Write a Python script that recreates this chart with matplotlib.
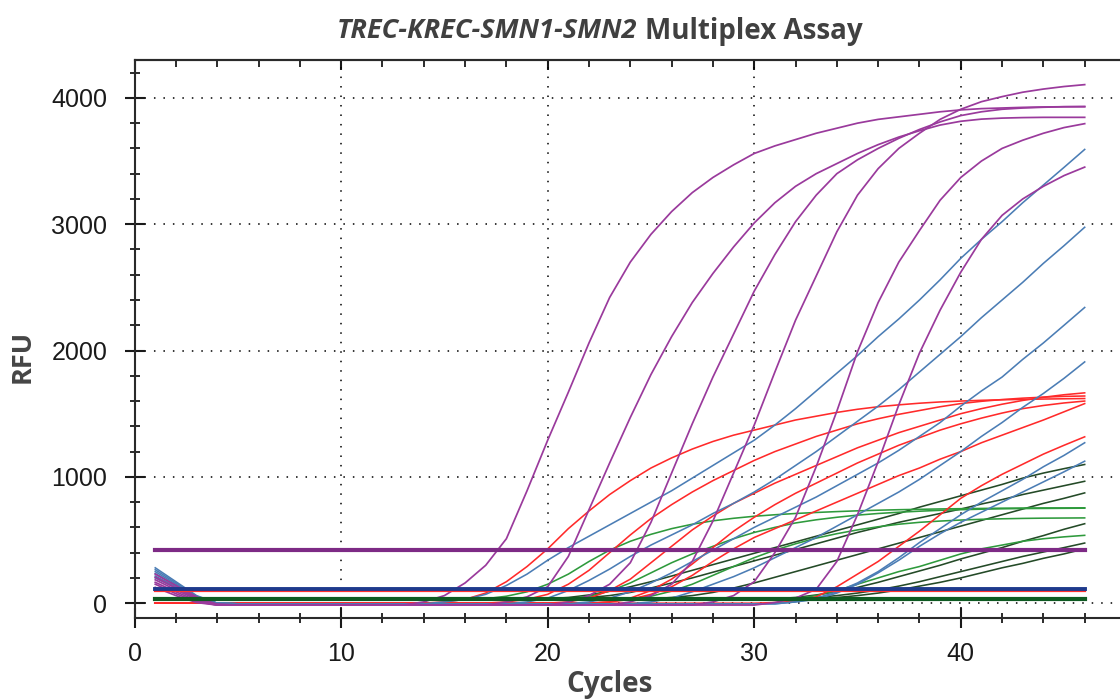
import numpy as np
import matplotlib.pyplot as plt
from matplotlib.ticker import MultipleLocator

# cycle numbers 1..46
cycles = list(range(1, 47))

# purple (SMN1) curves
purple_1 = [230, 140, 50, -10, -15, -15, -15, -15, -15, -15, -15, -15, -15,
            10, 60, 160, 300, 510, 890, 1290, 1670, 2060, 2420, 2700, 2920, 3100, 3250, 3370, 3470, 3560,
            3620, 3670, 3720, 3760, 3800, 3830, 3850, 3870, 3890, 3905, 3915, 3920, 3925, 3928, 3930, 3930]
purple_2 = [205, 120, 40, -10, -15, -15, -15, -15, -15, -15, -15, -15, -15, -15, -15, -15, -15,
            10, 50, 130, 370, 740, 1110, 1470, 1810, 2110, 2380, 2610, 2820, 3010, 3170, 3300, 3400,
            3480, 3560, 3630, 3690, 3740, 3785, 3815, 3832, 3840, 3844, 3846, 3846, 3846]
purple_3 = [185, 105, 30, -10, -15, -15, -15, -15, -15, -15, -15, -15, -15, -15, -15, -15, -15, -15, -15, -15,
            10, 60, 150, 320, 640, 1030, 1420, 1790, 2130, 2470, 2760, 3020, 3230, 3400, 3510, 3600,
            3680, 3750, 3810, 3860, 3890, 3910, 3920, 3926, 3930, 3932]
purple_4 = [165, 90, 20, -15, -15, -15, -15, -15, -15, -15, -15, -15, -15, -15, -15, -15, -15, -15, -15, -15,
            -15, -15, -15, 10, 60, 150, 330, 650, 1030, 1410, 1830, 2240, 2590, 2940, 3230, 3440, 3600,
            3720, 3830, 3910, 3970, 4010, 4045, 4070, 4090, 4105]
purple_5 = [150, 75, 12, -15, -15, -15, -15, -15, -15, -15, -15, -15, -15, -15, -15, -15, -15, -15, -15, -15,
            -15, -15, -15, -15, -15, -15, -15, 10, 60, 170, 400, 680, 1080, 1520, 1990, 2380, 2700, 2950,
            3190, 3370, 3500, 3600, 3665, 3720, 3765, 3796]
purple_6 = [125, 60, 5, -15, -15, -15, -15, -15, -15, -15, -15, -15, -15, -15, -15, -15, -15, -15, -15, -15,
            -15, -15, -15, -15, -15, -15, -15, -15, -15, -15, 5, 40, 110, 330, 700, 1120, 1570, 1980, 2320,
            2620, 2880, 3070, 3200, 3300, 3385, 3452]

# blue (TREC) curves
blue_1 = [280, 170, 60, 0, -5, -5, -5, -5, -5, -5, -5, -5, -5, -5,
          10, 30, 70, 140, 230, 340, 440, 530, 620, 710, 800, 890, 990, 1090, 1190, 1290, 1410, 1540,
          1680, 1820, 1960, 2110, 2250, 2400, 2560, 2730, 2880, 3020, 3170, 3310, 3450, 3592]
blue_2 = [265, 160, 55, 0, -5, -5, -5, -5, -5, -5, -5, -5, -5, -5, -5, -5, -5, -5,
          10, 40, 100, 180, 270, 370, 460, 540, 620, 710, 790, 880, 980, 1090, 1200, 1320, 1440, 1560,
          1690, 1830, 1970, 2110, 2260, 2400, 2540, 2690, 2830, 2976]
blue_3 = [250, 150, 50, 0, -5, -5, -5, -5, -5, -5, -5, -5, -5, -5, -5, -5, -5, -5, -5, -5, -5,
          10, 40, 90, 160, 240, 330, 420, 510, 600, 680, 760, 840, 930, 1020, 1110, 1210, 1320, 1430,
          1560, 1680, 1790, 1930, 2060, 2200, 2341]
blue_4 = [235, 140, 45, 0, -5, -5, -5, -5, -5, -5, -5, -5, -5, -5, -5, -5, -5, -5, -5, -5, -5, -5, -5, -5,
          10, 40, 90, 150, 210, 280, 360, 440, 520, 610, 700, 790, 880, 980, 1090, 1200, 1320, 1430,
          1550, 1660, 1780, 1910]
blue_5 = [215, 130, 40, 0, -5, -5, -5, -5, -5, -5, -5, -5, -5, -5, -5, -5, -5, -5, -5, -5, -5, -5, -5, -5,
          -5, -5, -5, -5, -5, -5, -5, 10, 40, 90, 160, 250, 360, 480, 590, 700, 800, 890, 980, 1080,
          1170, 1270]
blue_6 = [200, 120, 35, 0, -5, -5, -5, -5, -5, -5, -5, -5, -5, -5, -5, -5, -5, -5, -5, -5, -5, -5, -5, -5,
          -5, -5, -5, -5, -5, -5, -5, 10, 30, 80, 150, 240, 340, 450, 550, 640, 720, 800, 880, 960,
          1040, 1124]

# red (KREC) curves
red_1 = [0, 0, 0, 0, 0, 0, 0, 0, 0, 0, 0, 0, 0, 0,
         10, 30, 80, 170, 290, 430, 590, 730, 860, 970, 1070, 1150, 1220, 1280, 1330, 1370, 1410, 1450,
         1480, 1510, 1535, 1555, 1570, 1583, 1593, 1600, 1606, 1610, 1613, 1616, 1618, 1620]
red_2 = [0, 0, 0, 0, 0, 0, 0, 0, 0, 0, 0, 0, 0, 0, 0, 0, 0,
         10, 30, 70, 150, 260, 400, 540, 670, 780, 880, 970, 1050, 1130, 1200, 1260, 1320, 1370, 1420,
         1460, 1495, 1525, 1555, 1580, 1598, 1612, 1623, 1631, 1637, 1640]
red_3 = [0, 0, 0, 0, 0, 0, 0, 0, 0, 0, 0, 0, 0, 0, 0, 0, 0, 0, 0, 0,
         10, 40, 100, 190, 320, 450, 580, 690, 790, 870, 950, 1020, 1090, 1160, 1230, 1290, 1350, 1400,
         1450, 1500, 1540, 1575, 1605, 1630, 1650, 1665]
red_4 = [0, 0, 0, 0, 0, 0, 0, 0, 0, 0, 0, 0, 0, 0, 0, 0, 0, 0, 0, 0, 0, 0,
         10, 30, 70, 130, 220, 330, 430, 520, 590, 660, 730, 800, 870, 940, 1010, 1070, 1140, 1200,
         1270, 1330, 1390, 1450, 1515, 1580]
red_5 = [0, 0, 0, 0, 0, 0, 0, 0, 0, 0, 0, 0, 0, 0, 0, 0, 0, 0, 0, 0, 0, 0, 0, 0, 0, 0, 0, 0, 0, 0, 5,
         15, 50, 130, 230, 330, 450, 570, 700, 830, 930, 1020, 1100, 1180, 1250, 1317]
red_6 = [0, 0, 0, 0, 0, 0, 0, 0, 0, 0, 0, 0, 0, 0, 0, 0, 0, 0, 0, 0, 0, 0,
         10, 40, 100, 190, 310, 440, 570, 680, 780, 870, 950, 1030, 1110, 1180, 1250, 1310, 1370, 1420,
         1465, 1505, 1540, 1565, 1585, 1600]

# green (SMN2) curves
green_1 = [25, 25, 25, 25, 25, 25, 25, 25, 25, 25, 25, 25, 25, 25, 25, 25,
           35, 55, 90, 150, 230, 330, 420, 490, 545, 590, 625, 652, 672, 688, 700, 710, 718, 725, 731,
           736, 740, 743, 746, 748, 750, 752, 753, 754, 754, 755]
green_2 = [25, 25, 25, 25, 25, 25, 25, 25, 25, 25, 25, 25, 25, 25, 25, 25, 25, 25, 25, 25,
           35, 55, 95, 160, 240, 320, 390, 450, 510, 560, 600, 635, 660, 680, 697, 710, 720, 728, 735,
           740, 744, 747, 749, 750, 751, 752]
green_3 = [25, 25, 25, 25, 25, 25, 25, 25, 25, 25, 25, 25, 25, 25, 25, 25, 25, 25, 25, 25, 25, 25, 25,
           35, 55, 95, 150, 220, 290, 360, 420, 470, 515, 550, 580, 605, 625, 640, 650, 658, 664, 668,
           671, 673, 674, 675]
green_4 = [25, 25, 25, 25, 25, 25, 25, 25, 25, 25, 25, 25, 25, 25, 25, 25, 25, 25, 25, 25, 25, 25, 25,
           25, 25, 25, 25, 25, 25, 25, 25, 35, 60, 100, 150, 200, 250, 290, 340, 390, 430, 460, 490, 510,
           525, 537]

# dark green curves
dkgreen_1 = [30, 30, 30, 30, 30, 30, 30, 30, 30, 30, 30, 30, 30, 30, 30, 30, 30, 30, 30,
             35, 45, 65, 95, 130, 170, 215, 260, 305, 350, 395, 440, 485, 530, 575, 620, 665, 710, 760,
             805, 850, 895, 940, 990, 1030, 1065, 1098]
dkgreen_2 = [30, 30, 30, 30, 30, 30, 30, 30, 30, 30, 30, 30, 30, 30, 30, 30, 30, 30, 30, 30,
             35, 45, 60, 85, 120, 160, 200, 245, 290, 335, 380, 425, 470, 515, 560, 600, 640, 675, 710,
             745, 785, 820, 860, 895, 930, 965]
dkgreen_3 = [30, 30, 30, 30, 30, 30, 30, 30, 30, 30, 30, 30, 30, 30, 30, 30, 30, 30, 30, 30, 30, 30, 30, 30,
             35, 45, 60, 85, 120, 160, 205, 250, 295, 340, 385, 430, 475, 520, 565, 610, 655, 700, 745,
             790, 830, 873]
dkgreen_4 = [30, 30, 30, 30, 30, 30, 30, 30, 30, 30, 30, 30, 30, 30, 30, 30, 30, 30, 30, 30, 30, 30, 30, 30,
             30, 30, 30, 30, 30, 30, 35, 45, 65, 90, 125, 165, 210, 255, 300, 350, 395, 440, 490, 535,
             585, 629]
dkgreen_5 = [30, 30, 30, 30, 30, 30, 30, 30, 30, 30, 30, 30, 30, 30, 30, 30, 30, 30, 30, 30, 30, 30, 30, 30,
             30, 30, 30, 30, 30, 30, 30, 35, 45, 60, 80, 105, 135, 170, 210, 250, 290, 330, 370, 405,
             440, 476]
dkgreen_6 = [30, 30, 30, 30, 30, 30, 30, 30, 30, 30, 30, 30, 30, 30, 30, 30, 30, 30, 30, 30, 30, 30, 30, 30,
             30, 30, 30, 30, 30, 30, 30, 30, 35, 45, 60, 80, 105, 135, 165, 200, 240, 280, 315, 355,
             390, 430]

# threshold levels
thr_purple = 420
thr_blue = 115
thr_red = 100
thr_green = 35

PURPLE = '#9a3a9c'
BLUE = '#4b7db5'
RED = '#ff2a2a'
GREEN = '#2e9a3c'
DKGREEN = '#244a27'

fig = plt.figure(figsize=(11.2, 7), dpi=100)
ax = fig.add_axes([134.6 / 1120, 1 - 617.7 / 700, (1126 - 134.6) / 1120, (617.7 - 60) / 700])

lw = 1.15
for s in [dkgreen_1, dkgreen_2, dkgreen_3, dkgreen_4, dkgreen_5, dkgreen_6]:
    ax.plot(cycles, s, color=DKGREEN, lw=lw)
for s in [green_1, green_2, green_3, green_4]:
    ax.plot(cycles, s, color=GREEN, lw=lw)
for s in [red_1, red_2, red_3, red_4, red_5, red_6]:
    ax.plot(cycles, s, color=RED, lw=lw)
for s in [blue_1, blue_2, blue_3, blue_4, blue_5, blue_6]:
    ax.plot(cycles, s, color=BLUE, lw=lw)
for s in [purple_1, purple_2, purple_3, purple_4, purple_5, purple_6]:
    ax.plot(cycles, s, color=PURPLE, lw=1.25)

# threshold lines
x_thr = [cycles[0], cycles[-1]]
ax.plot(x_thr, [thr_green, thr_green], color='#0e5a22', lw=3.0)
ax.plot(x_thr, [thr_red, thr_red], color='#ff3030', lw=1.6)
ax.plot(x_thr, [thr_blue, thr_blue], color='#1e3a8c', lw=2.8)
ax.plot(x_thr, [thr_purple, thr_purple], color='#7d2a85', lw=3.0)

ax.set_xlim(0, 48)
ax.set_ylim(-115, 4300)

ax.xaxis.set_major_locator(MultipleLocator(10))
ax.xaxis.set_minor_locator(MultipleLocator(2))
ax.yaxis.set_major_locator(MultipleLocator(1000))
ax.yaxis.set_minor_locator(MultipleLocator(200))

ax.grid(which='major', color='black', lw=1.1, linestyle=(0, (1, 5.2)))
ax.set_axisbelow(True)

for side in ['left', 'bottom', 'top']:
    ax.spines[side].set_color('#2a2a2a')
    ax.spines[side].set_linewidth(1.5)
ax.spines['right'].set_visible(False)

ax.tick_params(which='major', direction='inout', length=14.4, width=1.5, color='#1a1a1a',
               labelsize=18, labelcolor='#1a1a1a')
ax.tick_params(which='minor', direction='inout', length=7.5, width=1.3, color='#1a1a1a')
ax.tick_params(axis='x', which='major', pad=10.2)
ax.tick_params(axis='y', which='major', pad=12.5)
for lab in ax.get_xticklabels() + ax.get_yticklabels():
    lab.set_family('Liberation Sans')

top = ax.secondary_xaxis('top')
top.xaxis.set_major_locator(MultipleLocator(10))
top.xaxis.set_minor_locator(MultipleLocator(2))
top.tick_params(which='major', direction='in', length=7.5, width=1.5, color='#1a1a1a', labeltop=False)
top.tick_params(which='minor', direction='in', length=5, width=1.3, color='#1a1a1a')
top.spines['top'].set_color('#2a2a2a')
top.spines['top'].set_linewidth(1.5)

# titles and axis labels
fig.text(637 / 1120, 1 - 38.5 / 700, 'TREC-KREC-SMN1-SMN2', family='Open Sans', weight='bold',
         style='italic', size=19.5, color='#404040', ha='right', va='baseline')
fig.text(645 / 1120, 1 - 38.5 / 700, 'Multiplex Assay', family='Open Sans', weight='bold',
         size=20, color='#404040', ha='left', va='baseline')
fig.text(23 / 1120, 1 - 356 / 700, 'RFU', family='Open Sans', weight='bold', size=19.5,
         color='#454545', rotation=90, ha='center', va='center')
fig.text(610 / 1120, 1 - 691.7 / 700, 'Cycles', family='Open Sans', weight='bold', size=20,
         color='#454545', ha='center', va='baseline')

fig.savefig('out.png', dpi=100)
